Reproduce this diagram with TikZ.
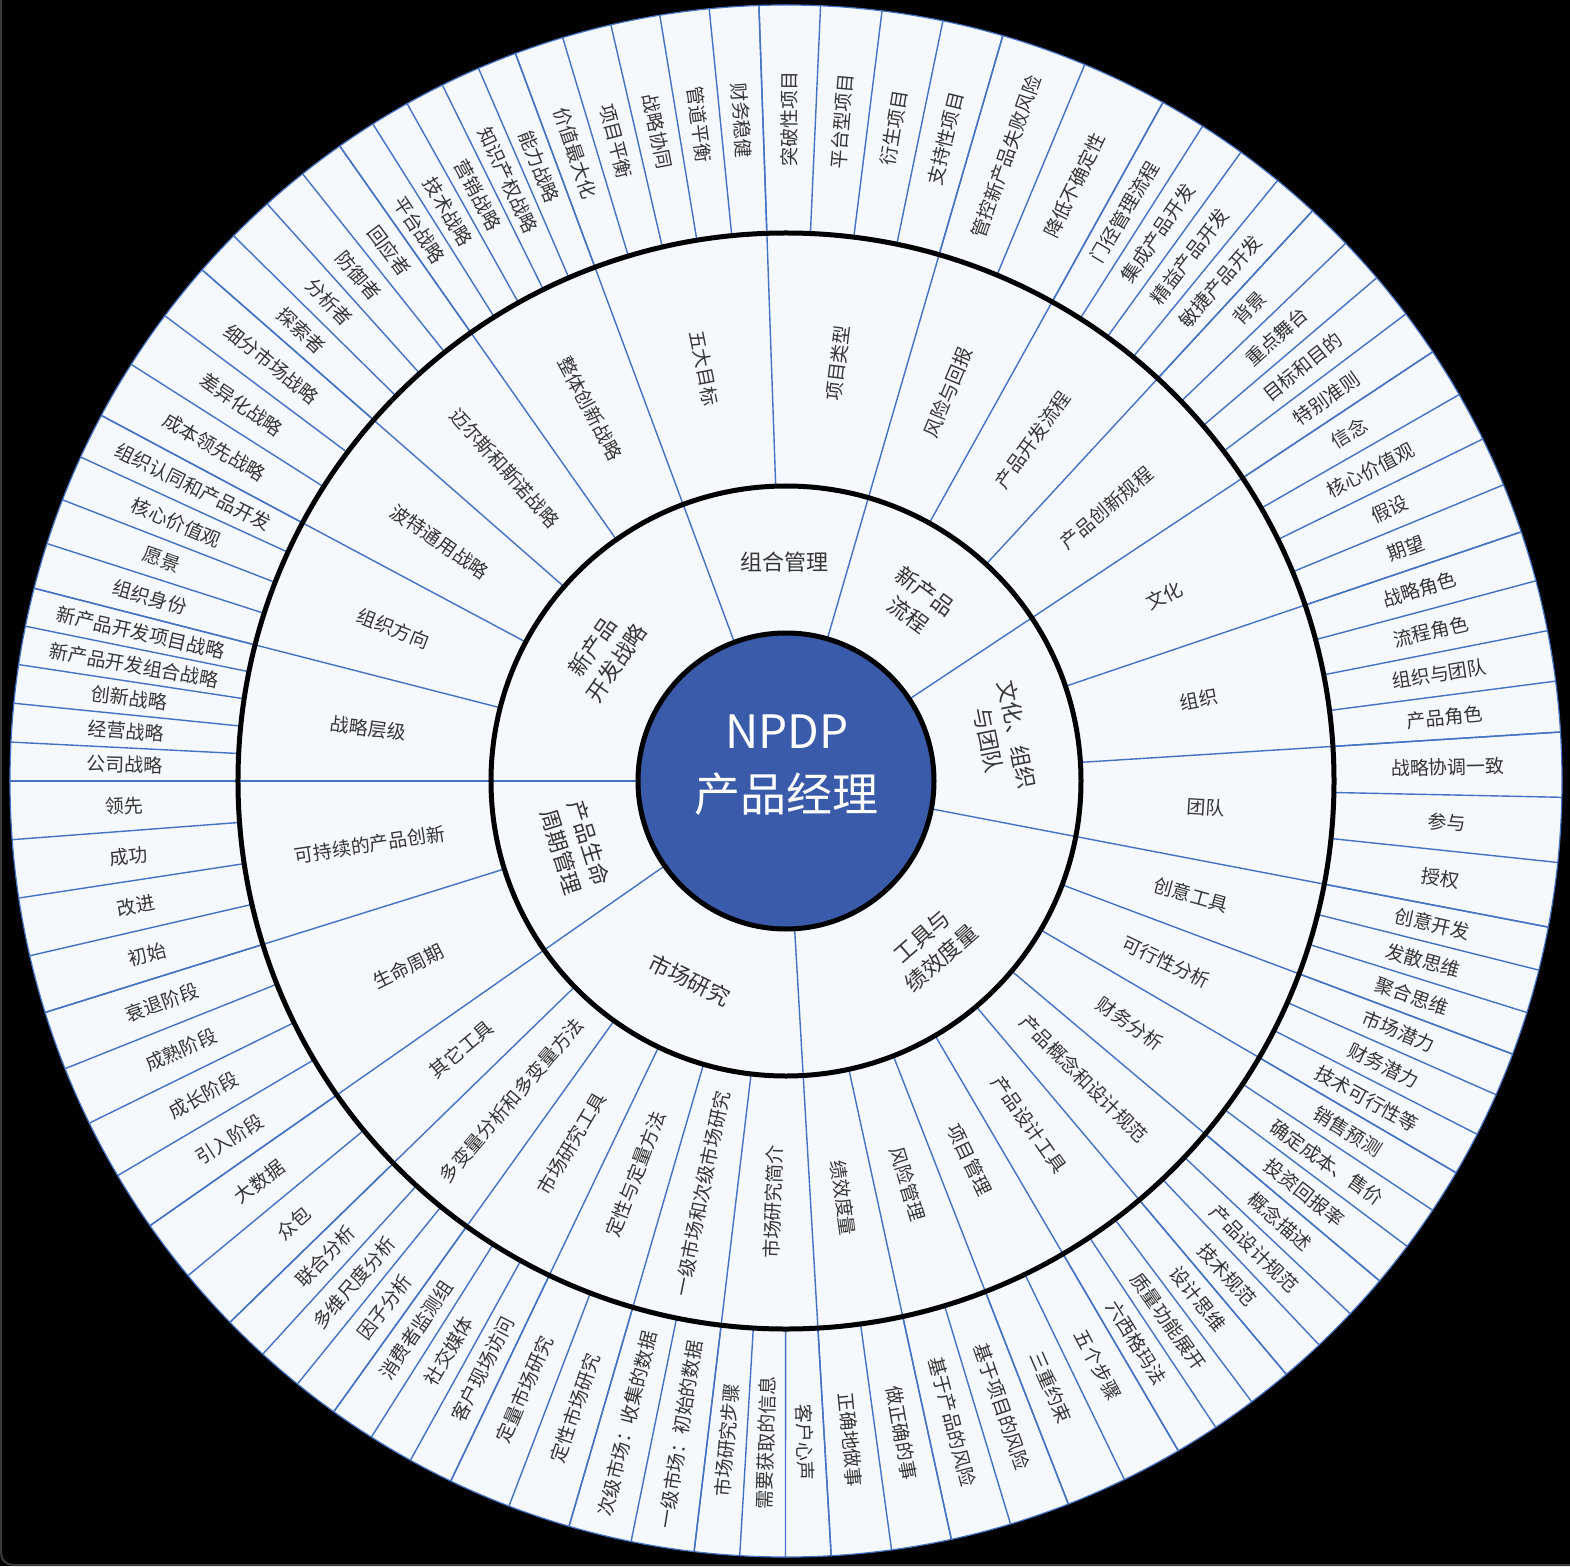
\documentclass[tikz,border=0pt]{standalone}
\usepackage{fontspec}
\setmainfont{Noto Sans CJK SC}
\usepackage{tikz}
\usetikzlibrary{calc}
\definecolor{rimblue}{HTML}{4472C4}
\definecolor{ringfill}{HTML}{F5F8FC}
\definecolor{hubblue}{HTML}{3A5BAA}
\definecolor{labelgray}{HTML}{363636}
\definecolor{framegray}{HTML}{3A3A3A}
\newcommand{\hubR}{148}
\newcommand{\coreR}{295}
\newcommand{\groupR}{548}
\newcommand{\leafR}{776}

\begin{document}
\begin{tikzpicture}[x=1pt, y=1pt,
    spoke/.style={draw=rimblue, line width=1.4pt},
    ringline/.style={draw=black, line width=5pt},
    leaflabel/.style={font=\fontsize{19}{22}\selectfont, text=labelgray, inner sep=0pt},
    grouplabel/.style={font=\fontsize{19}{22}\selectfont, text=labelgray, inner sep=0pt},
    corelabel/.style={font=\fontsize{22}{29}\selectfont, text=labelgray, align=center, inner sep=0pt},
    hublabel/.style={font=\fontsize{46}{50}\selectfont, text=white, inner sep=0pt},
]
    % Background and frame
    \useasboundingbox (-786,-785) rectangle (784,781);
    \fill[black] (-786,-785) rectangle (784,781);
    \draw[framegray, line width=2pt, rounded corners=12pt] (-785,781) -- (-785,-784) -- (784,-784);

    % Outer disc
    \fill[ringfill] (0,0) circle (\leafR);
    \draw[rimblue, line width=1.2pt] (0,0) circle (\leafR);

    % Groups and leaves (clockwise from the top)
    \foreach \ga/\gb/\n/\group/\items [count=\g] in {
        110.4/92.0/5/五大目标/{价值最大化,项目平衡,战略协同,管道平衡,财务稳健},
        92.0/73.78/4/项目类型/{突破性项目,平台型项目,衍生项目,支持性项目},
        73.78/60.95/2/风险与回报/{管控新产品失败风险,降低不确定性},
        60.95/47.28/4/产品开发流程/{门径管理流程,集成产品开发,精益产品开发,敏捷产品开发},
        47.28/33.57/4/产品创新规程/{背景,重点舞台,目标和目的,特别准则},
        33.57/18.72/4/文化/{信念,核心价值观,假设,期望},
        18.72/3.62/4/组织/{战略角色,流程角色,组织与团队,产品角色},
        3.62/-10.85/3/团队/{战略协调一致,参与,授权},
        -10.85/-20.6/3/创意工具/{创意开发,发散思维,聚合思维},
        -20.6/-30.31/3/可行性分析/{市场潜力,财务潜力,技术可行性等},
        -30.31/-40.1/3/财务分析/{销售预测,确定成本、售价,投资回报率},
        -40.1/-49.86/3/产品概念和设计规范/{概念描述,产品设计规范,技术规范},
        -49.86/-59.64/3/产品设计工具/{设计思维,质量功能展开,六西格玛法},
        -59.64/-68.67/2/项目管理/{五个步骤,三重约束},
        -68.67/-77.7/2/风险管理/{基于项目的风险,基于产品的风险},
        -77.7/-86.66/2/绩效度量/{做正确的事,正确地做事},
        -86.66/-96.8/3/市场研究简介/{客户心声,需要获取的信息,市场研究步骤},
        -96.8/-106.23/2/一级市场和次级市场研究/{一级市场：初始的数据,次级市场：收集的数据},
        -106.23/-115.59/2/定性与定量方法/{定性市场研究,定量市场研究},
        -115.59/-125.64/3/市场研究工具/{客户现场访问,社交媒体,消费者监测组},
        -125.64/-135.77/3/多变量分析和多变量方法/{因子分析,多维尺度分析,联合分析},
        -135.77/-145.04/2/其它工具/{众包,大数据},
        -145.04/-162.65/4/生命周期/{引入阶段,成长阶段,成熟阶段,衰退阶段},
        -162.65/-180/4/可持续的产品创新/{初始,改进,成功,领先},
        -180/-194.38/5/战略层级/{公司战略,经营战略,创新战略,新产品开发组合战略,新产品开发项目战略},
        -194.38/-208.1/4/组织方向/{组织身份,愿景,核心价值观,组织认同和产品开发},
        -208.1/-221.2/3/波特通用战略/{成本领先战略,差异化战略,细分市场战略},
        -221.2/-234.9/4/迈尔斯和斯诺战略/{探索者,分析者,防御者,回应者},
        -234.9/-249.6/5/整体创新战略/{平台战略,技术战略,营销战略,知识产权战略,能力战略}}{
        \pgfmathsetmacro\gmid{(\ga+\gb)/2}
        \pgfmathsetmacro\grot{cos(\gmid)>0 ? \gmid : \gmid+180}
        \pgfmathsetmacro\lstep{(\gb-\ga)/\n}
        \draw[spoke] (\ga:\coreR) -- (\ga:\leafR);
        \node[grouplabel, rotate=\grot] (group\g) at (\gmid:421) {\group};
        \foreach \leaf [count=\k] in \items {
            \pgfmathsetmacro\lend{\ga+\k*\lstep}
            \pgfmathsetmacro\lmid{\ga+(\k-0.5)*\lstep}
            \pgfmathsetmacro\lrot{cos(\lmid)>0 ? \lmid : \lmid+180}
            \draw[spoke] (\lend:\groupR) -- (\lend:\leafR);
            \node[leaflabel, rotate=\lrot] (leaf\g-\k) at (\lmid:662) {\leaf};
        }
    }

    % Core ring
    \foreach \ca in {110.4, 73.78, 33.57, -10.85, -86.66, -145.04, 180}
        \draw[spoke] (\ca:\hubR) -- (\ca:\coreR);
    \node[corelabel] (portfolio) at (90.3:219) {组合管理};
    \node[corelabel, rotate=-36.33] (process) at (53.67:221) {新产品\\流程};
    \node[corelabel, rotate=-78.64] (culture) at (11.36:221) {文化、组织\\与团队};
    \node[corelabel, rotate=41.25] (tools) at (-48.75:221) {工具与\\绩效度量};
    \node[corelabel, rotate=-25.85] (market) at (-115.85:221) {市场研究};
    \node[corelabel, rotate=-72.52] (lifecycle) at (-162.52:221) {产品生命\\周期管理};
    \node[corelabel, rotate=55.2] (strategy) at (145.2:221) {新产品\\开发战略};

    % Ring borders
    \draw[ringline] (0,0) circle (\groupR);
    \draw[ringline] (0,0) circle (\coreR);

    % Hub
    \draw[ringline, fill=hubblue] (0,0) circle (\hubR);
    \node[hublabel] (hubname) at (1,49) {NPDP};
    \node[hublabel] (hubtitle) at (0,-13) {产品经理};
\end{tikzpicture}
\end{document}
